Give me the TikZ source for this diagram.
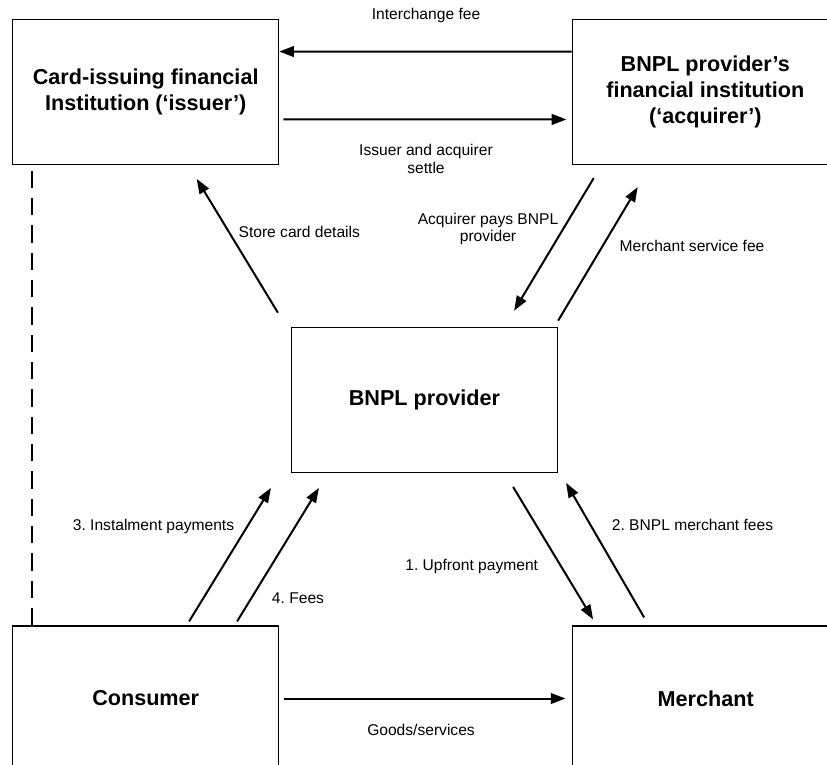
\documentclass[tikz,border=0pt]{standalone}
\usepackage{fontspec}
\setmainfont{Liberation Sans}
\usetikzlibrary{arrows.meta,calc}
\frenchspacing

\begin{document}
\begin{tikzpicture}[x=0.75pt,y=0.75pt,yscale=-1,
	entity/.style={draw, line width=0.9pt, minimum width=199.5pt, minimum height=108.75pt, inner sep=0pt, align=center, font=\fontsize{16.2pt}{19.5pt}\selectfont\bfseries},
	flow/.style={line width=1.5pt, -{Triangle[length=11pt,width=8pt]}},
	lbl/.style={inner sep=0.75pt, align=center, font=\fontsize{11.7pt}{13.3pt}\selectfont}]
	\useasboundingbox (0,0) rectangle (827,764);
	
	% Boxes
	\node [entity] (issuer) at (145.7,91.8) {Card-issuing financial\\Institution (‘issuer’)};
	\node [entity] (acquirer) at (705.3,92) {BNPL provider’s\\financial institution\\(‘acquirer’)};
	\node [entity] (bnpl) at (424.5,399.8) {BNPL provider};
	\node [entity] (consumer) at (145.7,698.5) {Consumer};
	\node [entity] (merchant) at (705.7,698.5) {Merchant};
	
	% Free ends of the slanted arrows
	\coordinate (card0) at ($(bnpl.north west)+(-13,-14)$);
	\coordinate (card1) at ($(issuer.south)+(51,14)$);
	\coordinate (pay0) at ($(acquirer.south west)+(22,13)$);
	\coordinate (pay1) at ($(bnpl.north east)+(-44,-16)$);
	\coordinate (msf0) at ($(bnpl.north east)+(0,-6)$);
	\coordinate (msf1) at ($(acquirer.south west)+(66,22)$);
	\coordinate (inst0) at ($(consumer.north west)+(177,-4)$);
	\coordinate (inst1) at ($(bnpl.south west)+(-20,15)$);
	\coordinate (fee0) at ($(consumer.north west)+(225,-4)$);
	\coordinate (fee1) at ($(bnpl.south west)+(28,15)$);
	\coordinate (up0) at ($(bnpl.south east)+(-45,14)$);
	\coordinate (up1) at ($(merchant.north west)+(21,-6)$);
	\coordinate (bmf0) at ($(merchant.north west)+(72,-8)$);
	\coordinate (bmf1) at ($(bnpl.south east)+(8,10)$);
	
	% Straight Lines
	\draw [flow] ([yshift=-30.2pt]acquirer.west) -- ([yshift=-30.2pt]issuer.east);
	\draw [flow, shorten <=3pt, shorten >=4pt] ([yshift=20.6pt]issuer.east) -- ([yshift=20.6pt]acquirer.west);
	\draw [flow, shorten <=3.2pt, shorten >=5pt] (consumer.east) -- (merchant.west);
	\draw [flow] (card0) -- (card1);
	\draw [flow] (pay0) -- (pay1);
	\draw [flow] (msf0) -- (msf1);
	\draw [flow] (inst0) -- (inst1);
	\draw [flow] (fee0) -- (fee1);
	\draw [flow] (up0) -- (up1);
	\draw [flow] (bmf0) -- (bmf1);
	% Dashed Line
	\draw [line width=1.5pt, dash pattern=on 13pt off 7.5pt] ($(consumer.north west)+(19.6,0)$) -- ($(issuer.south west)+(19.6,0)$);
	
	% Text Node
	\node [lbl] (interlbl) at (426,15) {Interchange fee};
	% Text Node
	\node [lbl] (settlelbl) at (426,158.7) {Issuer and acquirer\\settle};
	% Text Node
	\node [lbl] (cardlbl) at (299.3,231.7) {Store card details};
	% Text Node
	\node [lbl] (paylbl) at (488,229) {Acquirer pays BNPL\\provider};
	% Text Node
	\node [lbl] (msflbl) at (692,246) {Merchant service fee};
	% Text Node
	\node [lbl] (instlbl) at (153.5,526) {3. Instalment payments};
	% Text Node
	\node [lbl] (feelbl) at (298,598) {4. Fees};
	% Text Node
	\node [lbl] (uplbl) at (471.7,566.7) {1. Upfront payment};
	% Text Node
	\node [lbl] (bmflbl) at (692.5,525) {2. BNPL merchant fees};
	% Text Node
	\node [lbl] (goodslbl) at (421,730) {Goods/services};
	
\end{tikzpicture}
\end{document}
